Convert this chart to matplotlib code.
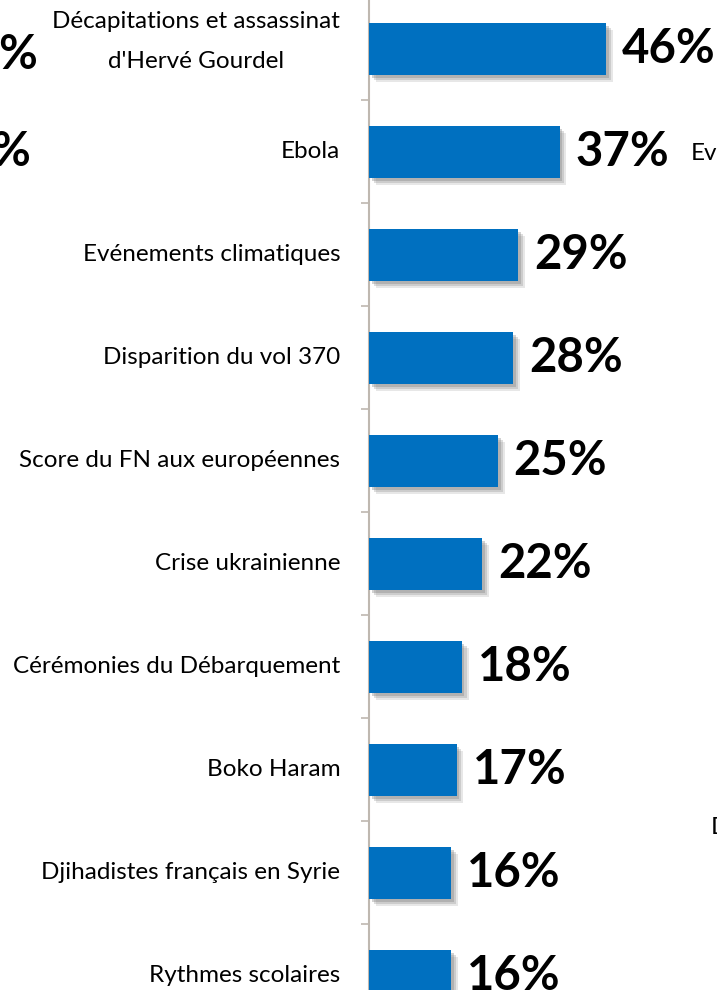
import matplotlib
matplotlib.use("Agg")
import matplotlib.pyplot as plt
import matplotlib.patheffects as pe
import numpy as np

# Data
categories = [
    "Décapitations et assassinat\nd'Hervé Gourdel",
    "Ebola",
    "Evénements climatiques",
    "Disparition du vol 370",
    "Score du FN aux européennes",
    "Crise ukrainienne",
    "Cérémonies du Débarquement",
    "Boko Haram",
    "Djihadistes français en Syrie",
    "Rythmes scolaires",
]
values = [46, 37, 29, 28, 25, 22, 18, 17, 16, 16]
value_labels = [f"{v}%" for v in values]

plt.rcParams['font.family'] = ['Lato', 'DejaVu Sans']

W, H = 717, 990
fig = plt.figure(figsize=(W / 100, H / 100), dpi=100)
fig.patch.set_facecolor("white")

# axes: left spine at x=369px, full height
ax = fig.add_axes([369 / W, 0, (W - 369) / W, 1])
y = np.arange(len(categories))
ax.set_ylim((H - 49) / 103, -49 / 103)
ax.set_xlim(0, (W - 369) / 5.15)

# soft drop shadow, built from a few stacked offsets
shadow = [pe.SimplePatchShadow(offset=(5, -5), shadow_rgbFace="#A0A0A0", alpha=0.25),
          pe.SimplePatchShadow(offset=(3.5, -3.5), shadow_rgbFace="#909090", alpha=0.3),
          pe.SimplePatchShadow(offset=(2, -2), shadow_rgbFace="#808080", alpha=0.35),
          pe.Normal()]
bars = ax.barh(y, values, height=0.505, color="#0070C0", path_effects=shadow, zorder=3)

for yi, v, lab in zip(y, values, value_labels):
    ax.text(v + 3.1, yi, lab, ha="left", va="center", fontsize=34,
            fontweight="bold", color="black", clip_on=False)

# category labels, right aligned
for yi, cat in zip(y, categories):
    dy = -0.07 if "\n" in cat else 0
    ax.text(-5.6, yi + dy, cat, ha="right", va="center", fontsize=17.5,
            multialignment="center", linespacing=2.1, color="black", clip_on=False)

ax.set_yticks(np.arange(len(categories) - 1) + 0.5)
ax.set_yticklabels([])
ax.set_xticks([])
ax.tick_params(axis="y", direction="out", length=6, width=1.2, color="#BFB8B0")
for s in ["top", "right", "bottom"]:
    ax.spines[s].set_visible(False)
ax.spines["left"].set_color("#BFB8B0")
ax.spines["left"].set_linewidth(1.5)
ax.set_facecolor("none")

# fragments of neighbouring charts cut by the frame
fig.text(37 / W, 1 - 55 / H, "%", ha="right", va="center", fontsize=34, fontweight="bold")
fig.text(30 / W, 1 - 152 / H, "%", ha="right", va="center", fontsize=34, fontweight="bold")
fig.text(691 / W, 1 - 153 / H, "Evénements", ha="left", va="center", fontsize=17.5)
fig.text(711 / W, 1 - 828 / H, "D", ha="left", va="center", fontsize=17.5)

fig.savefig("out.png", dpi=100, facecolor="white")
